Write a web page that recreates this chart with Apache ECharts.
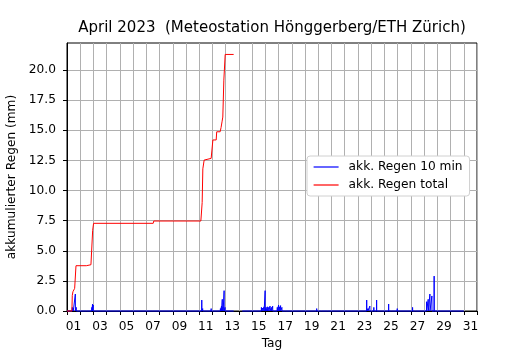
<!DOCTYPE html>
<html>
<head>
<meta charset="utf-8">
<script src="https://cdn.jsdelivr.net/npm/echarts@6/dist/echarts.min.js"></script>
<style>
  html, body { margin: 0; padding: 0; background: #fff; }
  #main { width: 530px; height: 350px; }
</style>
</head>
<body>
<div id="main"></div>
<script>
// Zeit in Tagen ab 1. April 00:00
var dayLabels = ['01', '03', '05', '07', '09', '11', '13', '15', '17', '19', '21', '23', '25', '27', '29', '31'];
var yTicks = [0, 2.5, 5, 7.5, 10, 12.5, 15, 17.5, 20];

// 10-min Regen (mm), nur Intervalle mit Regen
var rainDay = [0.40, 0.47, 0.63, 0.70, 1.47, 1.88, 1.93, 1.98, 2.03, 6.50,
  10.19, 10.26, 10.33, 10.90, 11.03, 11.28, 11.60, 11.68, 11.74, 11.80, 11.88, 11.95,
  14.70, 14.80, 14.90, 14.98, 15.05, 15.15, 15.25, 15.35, 15.45, 15.55, 15.70, 15.90,
  16.00, 16.08, 16.15, 16.25, 16.35, 16.55, 18.88, 19.00, 19.26, 19.68,
  22.15, 22.40, 22.66, 22.75, 22.90, 23.20, 23.41, 23.60, 24.32, 24.55, 24.97,
  26.13, 26.35, 27.19, 27.31, 27.44, 27.59, 27.76, 27.89, 28.20];
var rainMm = [0.30, 0.25, 1.41, 0.30, 0.12, 0.30, 0.58, 0.50, 0.15, 0.10,
  0.91, 0.20, 0.15, 0.20, 0.12, 0.15, 0.20, 0.40, 0.97, 0.35, 1.69, 0.30,
  0.30, 0.25, 0.35, 1.69, 0.30, 0.35, 0.30, 0.41, 0.30, 0.40, 0.15, 0.30,
  0.50, 0.35, 0.45, 0.30, 0.15, 0.10, 0.20, 0.15, 0.15, 0.10,
  0.15, 0.12, 0.91, 0.20, 0.41, 0.30, 0.91, 0.12, 0.58, 0.10, 0.20,
  0.30, 0.12, 0.77, 0.97, 1.41, 1.25, 2.90, 0.12, 0.10];

// akkumulierter Regen total (mm)
var totalDay = [0, 0.37, 0.40, 0.45, 0.58, 0.68, 1.46, 1.51, 1.81, 1.94, 2.01, 6.52, 6.56,
  10.12, 10.22, 10.27, 10.37, 10.45, 10.90, 11.03, 11.28, 11.32, 11.58, 11.65, 11.72,
  11.78, 11.86, 11.90, 11.96, 12.60];
var totalMm = [0, 0, 1.30, 1.60, 1.88, 3.76, 3.76, 3.84, 3.84, 6.70, 7.28, 7.28, 7.47,
  7.47, 9.00, 11.80, 12.53, 12.67, 12.67, 14.20, 14.20, 14.88, 14.88, 15.24, 15.70,
  16.10, 19.17, 19.30, 21.30, 21.30];

// Datenluecke und Messende
var gapStart = 12.60, gapEnd = 13.25, dataEnd = 30;

var step = 1 / 144; // ein 10-min Intervall
var blueData = [[0, 0]];
var gapDone = false;
rainDay.forEach(function (d, i) {
  if (!gapDone && d > gapStart) {
    blueData.push([gapStart, 0], [gapStart, null], [gapEnd, 0]);
    gapDone = true;
  }
  blueData.push([d - step, 0], [d, rainMm[i]], [d + step, 0]);
});
blueData.push([dataEnd, 0]);

var redData = totalDay.map(function (d, i) { return [d, totalMm[i]]; });

var font = 'DejaVu Sans';
var fs = 12.2;
var chart = echarts.init(document.getElementById('main'));
chart.setOption({
  animation: false,
  textStyle: { fontFamily: font },
  title: {
    text: 'April 2023  (Meteostation Hönggerberg/ETH Zürich)',
    left: 267, top: 16, textAlign: 'center',
    textStyle: { fontFamily: font, fontSize: 15, fontWeight: 'normal', color: '#000' }
  },
  grid: {
    left: 67, right: 53, top: 43, bottom: 39,
    outerBoundsMode: 'none', containLabel: false,
    show: true, borderColor: '#000', borderWidth: 1
  },
  legend: {
    orient: 'vertical', left: 307, top: 156,
    padding: [5, 7, 5, 6], itemGap: 6, itemWidth: 25, itemHeight: 13,
    backgroundColor: '#fff', borderColor: '#d0d0d0', borderWidth: 1, borderRadius: 3,
    itemStyle: { opacity: 0 },
    lineStyle: { width: 1.2 },
    textStyle: { fontFamily: font, fontSize: fs, color: '#000', padding: [0, 0, 0, 5] },
    data: ['akk. Regen 10 min', 'akk. Regen total']
  },
  xAxis: {
    type: 'value', min: 0, max: 31, interval: 1,
    name: 'Tag', nameLocation: 'middle', nameGap: 26,
    nameTextStyle: { fontFamily: font, fontSize: fs, color: '#000' },
    axisLine: { show: true, lineStyle: { color: '#000' } },
    axisTick: { show: true, length: 4, lineStyle: { color: '#000' } },
    axisLabel: {
      margin: 10, fontFamily: font, fontSize: fs, color: '#000',
      customValues: dayLabels.map(function (s) { return Number(s) - 0.5; }),
      formatter: function (v) { return dayLabels[Math.round((v + 0.5 - 1) / 2)]; }
    },
    splitLine: { show: true, lineStyle: { color: '#b0b0b0', width: 1 } }
  },
  yAxis: {
    type: 'value', min: 0, max: 22.25, interval: 2.5,
    name: 'akkumulierter Regen (mm)', nameLocation: 'middle', nameGap: 43,
    nameTextStyle: { fontFamily: font, fontSize: fs, color: '#000' },
    axisLine: { show: true, lineStyle: { color: '#000' } },
    axisTick: { show: true, length: 4, lineStyle: { color: '#000' }, customValues: yTicks },
    axisLabel: {
      margin: 11, fontFamily: font, fontSize: fs, color: '#000',
      customValues: yTicks,
      formatter: function (v) { return v.toFixed(1); }
    },
    splitLine: { show: true, lineStyle: { color: '#b0b0b0', width: 1 } }
  },
  series: [
    {
      name: 'akk. Regen 10 min', type: 'line', data: blueData,
      symbol: 'none', clip: false, connectNulls: false,
      lineStyle: { color: '#0000ff', width: 1 }, itemStyle: { color: '#0000ff' }
    },
    {
      name: 'akk. Regen total', type: 'line', data: redData,
      symbol: 'none', clip: false,
      lineStyle: { color: '#ff0000', width: 1 }, itemStyle: { color: '#ff0000' }
    }
  ]
});
</script>
</body>
</html>
